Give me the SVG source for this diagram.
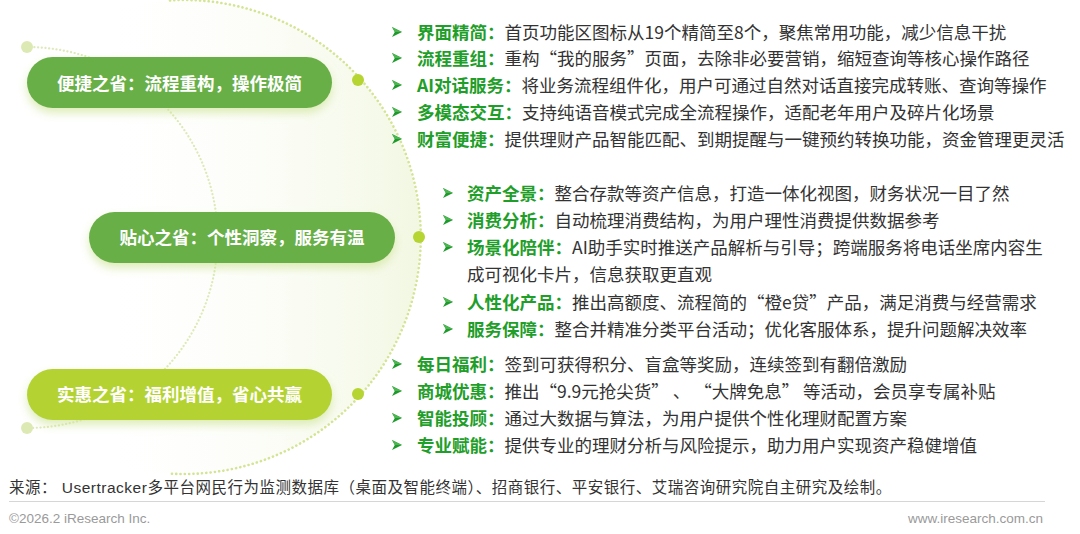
<svg xmlns="http://www.w3.org/2000/svg" width="1080" height="534" viewBox="0 0 1080 534">
<style>
  .t{font-family:"Noto Sans CJK SC","Noto Sans",sans-serif;font-size:17.5px;fill:#333333}
  .lb{font-weight:bold;fill:#1f9e2a}
  .pt{font-family:"Noto Sans CJK SC","Noto Sans",sans-serif;font-size:17.5px;font-weight:bold;fill:#ffffff;text-anchor:middle}
  .arcO{fill:none;stroke:#d3e494;stroke-width:2.6;stroke-dasharray:0.1 4.2;stroke-linecap:round}
  .arcI{fill:none;stroke:#dde9b6;stroke-width:2.2;stroke-dasharray:0.1 3.6;stroke-linecap:round}
  .dotO{fill:#b6d432}
  .dotI{fill:#dde9b4}
  .ft{font-family:"Liberation Sans","Noto Sans CJK SC",sans-serif}
</style>
<defs>
  <linearGradient id="bg" x1="0" y1="0" x2="1" y2="0">
    <stop offset="0.3" stop-color="#ffffff" stop-opacity="0"/>
    <stop offset="1" stop-color="#eef5d9" stop-opacity="0.75"/>
  </linearGradient>
  <filter id="sh" x="-20%" y="-40%" width="140%" height="190%">
    <feDropShadow dx="0" dy="5" stdDeviation="5" flood-color="#cfe49a" flood-opacity="0.7"/>
  </filter>
  <g id="bul">
    <polygon points="0,0 10,5 0,10 2.8,5" fill="#1e9a2c"/>
    <polygon points="0,0 10,5 2.8,5" fill="#4cb552"/>
  </g>
</defs>

<!-- background circle tint -->
<circle cx="183" cy="237" r="237" fill="url(#bg)"/>

<g id="connectors">
  <path class="arcO" d="M170,0.4 A237,237 0 1 1 170,473.6"/>
  <path class="arcI" d="M27,47 A190,190 0 1 1 27,428"/>
  <circle class="dotO" cx="358" cy="80" r="6"/>
  <circle class="dotO" cx="419" cy="237" r="6"/>
  <circle class="dotO" cx="358" cy="394" r="6"/>
  <circle class="dotI" cx="27" cy="47" r="6"/>
  <circle class="dotI" cx="27" cy="428" r="6"/>
</g>

<g id="node-convenient">
  <rect x="27" y="57" width="305" height="51" rx="25.5" fill="#68af47" filter="url(#sh)"/>
  <text class="pt" x="179.5" y="89.5">便捷之省：流程重构，操作极简</text>
</g>
<g id="node-caring">
  <rect x="89" y="212" width="306" height="51" rx="25.5" fill="#68af47" filter="url(#sh)"/>
  <text class="pt" x="242" y="244">贴心之省：个性洞察，服务有温</text>
</g>
<g id="node-benefit">
  <rect x="27" y="369" width="305" height="51" rx="25.5" fill="#b4d333" filter="url(#sh)"/>
  <text class="pt" x="179.5" y="401">实惠之省：福利增值，省心共赢</text>
</g>

<g id="list-convenient">
  <use href="#bul" x="392" y="27"/>
  <use href="#bul" x="392" y="53"/>
  <use href="#bul" x="392" y="80"/>
  <use href="#bul" x="392" y="107"/>
  <use href="#bul" x="392" y="134"/>
  <text class="t" x="417" y="38.5"><tspan class="lb">界面精简：</tspan>首页功能区图标从19个精简至8个，聚焦常用功能，减少信息干扰</text>
  <text class="t" x="417" y="64.5"><tspan class="lb">流程重组：</tspan>重构“我的服务”页面，去除非必要营销，缩短查询等核心操作路径</text>
  <text class="t" x="417" y="91.5"><tspan class="lb">AI对话服务：</tspan>将业务流程组件化，用户可通过自然对话直接完成转账、查询等操作</text>
  <text class="t" x="417" y="118.5"><tspan class="lb">多模态交互：</tspan>支持纯语音模式完成全流程操作，适配老年用户及碎片化场景</text>
  <text class="t" x="417" y="145.5"><tspan class="lb">财富便捷：</tspan>提供理财产品智能匹配、到期提醒与一键预约转换功能，资金管理更灵活</text>
</g>

<g id="list-caring">
  <use href="#bul" x="443" y="188"/>
  <use href="#bul" x="443" y="215"/>
  <use href="#bul" x="443" y="242"/>
  <use href="#bul" x="443" y="297"/>
  <use href="#bul" x="443" y="324"/>
  <text class="t" x="467" y="199.5"><tspan class="lb">资产全景：</tspan>整合存款等资产信息，打造一体化视图，财务状况一目了然</text>
  <text class="t" x="467" y="226.5"><tspan class="lb">消费分析：</tspan>自动梳理消费结构，为用户理性消费提供数据参考</text>
  <text class="t" x="467" y="253.5"><tspan class="lb">场景化陪伴：</tspan>AI助手实时推送产品解析与引导；跨端服务将电话坐席内容生</text>
  <text class="t" x="467" y="281">成可视化卡片，信息获取更直观</text>
  <text class="t" x="467" y="308.5"><tspan class="lb">人性化产品：</tspan>推出高额度、流程简的“橙e贷”产品，满足消费与经营需求</text>
  <text class="t" x="467" y="335.5"><tspan class="lb">服务保障：</tspan>整合并精准分类平台活动；优化客服体系，提升问题解决效率</text>
</g>

<g id="list-benefit">
  <use href="#bul" x="392" y="359"/>
  <use href="#bul" x="392" y="386"/>
  <use href="#bul" x="392" y="413"/>
  <use href="#bul" x="392" y="440"/>
  <text class="t" x="417" y="370.5"><tspan class="lb">每日福利：</tspan>签到可获得积分、盲盒等奖励，连续签到有翻倍激励</text>
  <text class="t" x="417" y="397.5"><tspan class="lb">商城优惠：</tspan>推出“9.9元抢尖货” 、 “大牌免息” 等活动，会员享专属补贴</text>
  <text class="t" x="417" y="424.5"><tspan class="lb">智能投顾：</tspan>通过大数据与算法，为用户提供个性化理财配置方案</text>
  <text class="t" x="417" y="451.5"><tspan class="lb">专业赋能：</tspan>提供专业的理财分析与风险提示，助力用户实现资产稳健增值</text>
</g>

<g id="footer">
  <text class="ft" x="9" y="493" font-size="15.5" letter-spacing="0.5" fill="#333333">来源： Usertracker多平台网民行为监测数据库（桌面及智能终端）、招商银行、平安银行、艾瑞咨询研究院自主研究及绘制。</text>
  <line x1="9" y1="501.5" x2="1045" y2="501.5" stroke="#d6d6d6" stroke-width="1"/>
  <text class="ft" x="9" y="523" font-size="13.5" fill="#9a9a9a">©2026.2 iResearch Inc.</text>
  <text class="ft" x="1043" y="523" font-size="13.5" fill="#9a9a9a" text-anchor="end">www.iresearch.com.cn</text>
</g>
</svg>
